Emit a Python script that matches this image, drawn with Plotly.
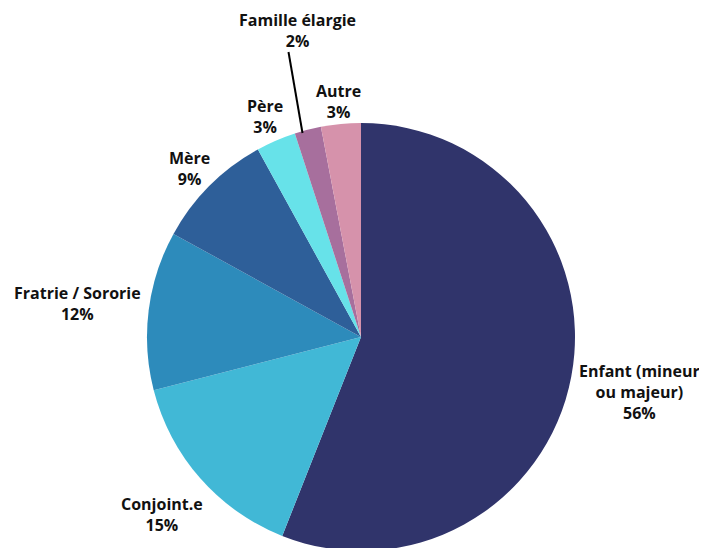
import plotly.graph_objects as go

labels = ["Enfant (mineur ou majeur)", "Conjoint.e", "Fratrie / Sororie", "Mère", "Père", "Famille élargie", "Autre"]
display_labels = ["Enfant (mineur<br>ou majeur)", "Conjoint.e", "Fratrie / Sororie", "Mère", "Père", "Famille élargie", "Autre"]
values = [56, 15, 12, 9, 3, 2, 3]
colors = ["#30346B", "#41B8D6", "#2D8BBB", "#2E5F99", "#67E2E9", "#A76F9D", "#D692AB"]

W, H = 707, 548
OFF = 8  # page body margin offset
CX, CY, R = 361 - OFF, 337 - OFF, 214
# label centre positions in pixels (layout only, page coordinates)
label_pos = [(639, 392), (162, 514), (77, 303), (189, 168), (265, 117), (297, 31), (338, 101)]

def px2paper(px, py):
    return (px - OFF) / W, 1 - (py - OFF) / H

fig = go.Figure(go.Pie(
    labels=labels, values=values, sort=False, direction="clockwise", rotation=0,
    marker=dict(colors=colors, line=dict(width=0)),
    textinfo="none", hoverinfo="label+percent", showlegend=False,
    domain=dict(x=[(CX - R) / W, (CX + R) / W], y=[max(0, (H - CY - R) / H), (H - CY + R) / H]),
))

annotations = []
for lab, val, (px, py) in zip(display_labels, values, label_pos):
    ax, ay = px2paper(px, py)
    annotations.append(dict(
        text=f"<b>{lab}<br>{val}%</b>", x=ax, y=ay, xref="paper", yref="paper",
        showarrow=False, xanchor="center", yanchor="middle", align="center",
        font=dict(family="Open Sans", size=16, color="#111111"),
    ))

x0, y0 = px2paper(288.5, 52)
x1, y1 = px2paper(302.5, 133)
fig.update_layout(
    width=W, height=H, margin=dict(l=0, r=0, t=0, b=0),
    paper_bgcolor="white", plot_bgcolor="white",
    annotations=annotations,
    shapes=[dict(type="line", xref="paper", yref="paper",
                 x0=x0, y0=y0, x1=x1, y1=y1,
                 line=dict(color="black", width=2))],
)
fig.write_html("out.html")
